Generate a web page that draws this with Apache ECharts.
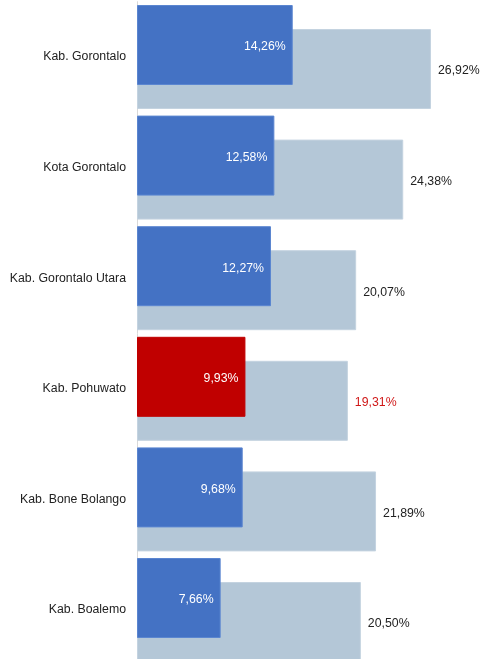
<!DOCTYPE html>
<html>
<head>
<meta charset="utf-8">
<script src="https://cdn.jsdelivr.net/npm/echarts@6/dist/echarts.min.js"></script>
<style>html,body{margin:0;padding:0;background:#fff;overflow:hidden;height:659px;}#c{width:483px;height:666px;}</style>
</head>
<body>
<div id="c"></div>
<script>
const categories = ["Kab. Gorontalo", "Kota Gorontalo", "Kab. Gorontalo Utara", "Kab. Pohuwato", "Kab. Bone Bolango", "Kab. Boalemo"];
const frontValues = [14.26, 12.58, 12.27, 9.93, 9.68, 7.66];
const backValues = [26.92, 24.38, 20.07, 19.31, 21.89, 20.50];
const highlightIndex = 3;

const fmt = v => v.toFixed(2).replace('.', ',') + '%';
const chart = echarts.init(document.getElementById('c'));
chart.setOption({
  animation: false,
  textStyle: { fontFamily: 'Liberation Sans, Arial, sans-serif' },
  grid: { left: 137, width: 327.6, top: 1.7, height: 663.6, containLabel: false },
  xAxis: { type: 'value', min: 0, max: 30, show: false },
  yAxis: {
    type: 'category', data: categories, inverse: true,
    axisTick: { show: false },
    axisLine: { lineStyle: { color: '#d9d9d9', width: 1 } },
    axisLabel: { color: '#222', fontSize: 12.3, margin: 11, padding: [3, 0, 0, 0] }
  },
  series: [
    {
      type: 'bar', name: 'front', z: 3, barWidth: 80, barGap: '-70%',
      data: frontValues.map((v, i) => ({
        value: v,
        itemStyle: { color: i === highlightIndex ? '#C00000' : '#4472C4', borderColor: i === highlightIndex ? '#C00000' : '#5B86D0', borderWidth: 1 }
      })),
      label: { show: true, position: 'insideRight', distance: 7, offset: [0, 2], color: '#fff', fontSize: 12.3, formatter: p => fmt(p.value) }
    },
    {
      type: 'bar', name: 'back', z: 2, barWidth: 80,
      itemStyle: { color: '#B4C7D7', borderColor: '#C4D3E0', borderWidth: 1 },
      data: backValues.map((v, i) => ({
        value: v,
        label: { color: i === highlightIndex ? '#D01818' : '#222' }
      })),
      label: { show: true, position: 'right', distance: 7, offset: [0, 2], fontSize: 12.3, formatter: p => fmt(p.value) }
    }
  ]
});
</script>
</body>
</html>
